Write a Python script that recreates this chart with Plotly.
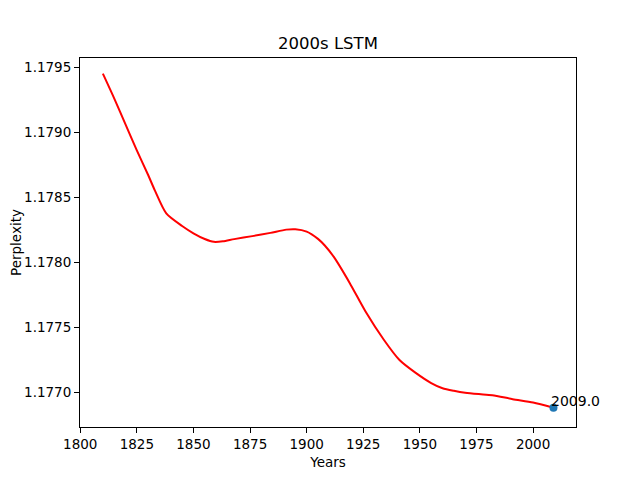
import plotly.graph_objects as go

years = [1810, 1815, 1820, 1825, 1830, 1833, 1838, 1845, 1850, 1855, 1859, 1863,
         1868, 1876, 1884, 1891, 1895, 1900, 1905, 1908, 1912, 1919, 1926, 1934, 1941,
         1948, 1955, 1960, 1965, 1970, 1976, 1982, 1991, 2000, 2009]
perplexity = [1.17945, 1.17926, 1.17906, 1.17886, 1.17867, 1.17855, 1.178375, 1.178278,
              1.178222, 1.178178, 1.178156, 1.17816, 1.178177, 1.1782, 1.178225,
              1.17825, 1.178253, 1.178235, 1.178179, 1.178128, 1.17804, 1.17784, 1.17762,
              1.177405, 1.177247, 1.17715, 1.17707, 1.17703, 1.17701, 1.176995, 1.176985,
              1.176977, 1.176946, 1.17692, 1.17688]
point_year = [2009]
point_value = [1.17688]
point_label = ["2009.0"]

font = "DejaVu Sans"
fig = go.Figure()
fig.add_trace(go.Scatter(x=years, y=perplexity, mode="lines",
                         line=dict(color="red", width=2, shape="spline", smoothing=0.7),
                         showlegend=False))
fig.add_trace(go.Scatter(x=point_year, y=point_value, mode="markers",
                         marker=dict(color="#1f77b4", size=8), showlegend=False))
fig.add_annotation(x=point_year[0], y=point_value[0], text=point_label[0],
                   showarrow=False, xanchor="left", yanchor="bottom",
                   xshift=-4, yshift=-3,
                   font=dict(family=font, size=14, color="black"))

axis_common = dict(showgrid=False, zeroline=False, showline=True, linecolor="black",
                   linewidth=1, mirror=True, ticks="outside", ticklen=5,
                   tickcolor="black", tickfont=dict(family=font, size=13.5, color="black"))
fig.update_xaxes(range=[1799.9, 2018.95], dtick=25, tick0=1800,
                 title=dict(text="Years", font=dict(family=font, size=13.5, color="black"),
                            standoff=6),
                 **axis_common)
fig.update_yaxes(range=[1.176732, 1.17957], dtick=0.0005, tick0=1.1770, tickformat=".4f",
                 title=dict(text="Perplexity", font=dict(family=font, size=13.5, color="black"),
                            standoff=8),
                 **axis_common)
fig.update_layout(width=632, height=472, plot_bgcolor="white", paper_bgcolor="white",
                  margin=dict(l=72, r=64, t=50, b=53, autoexpand=False),
                  title=dict(text="2000s LSTM", x=(72 + 248) / 632, xref="container",
                             xanchor="center",
                             y=1 - 35 / 472, yanchor="middle",
                             font=dict(family=font, size=16.5, color="black")))
fig.write_html("out.html")
